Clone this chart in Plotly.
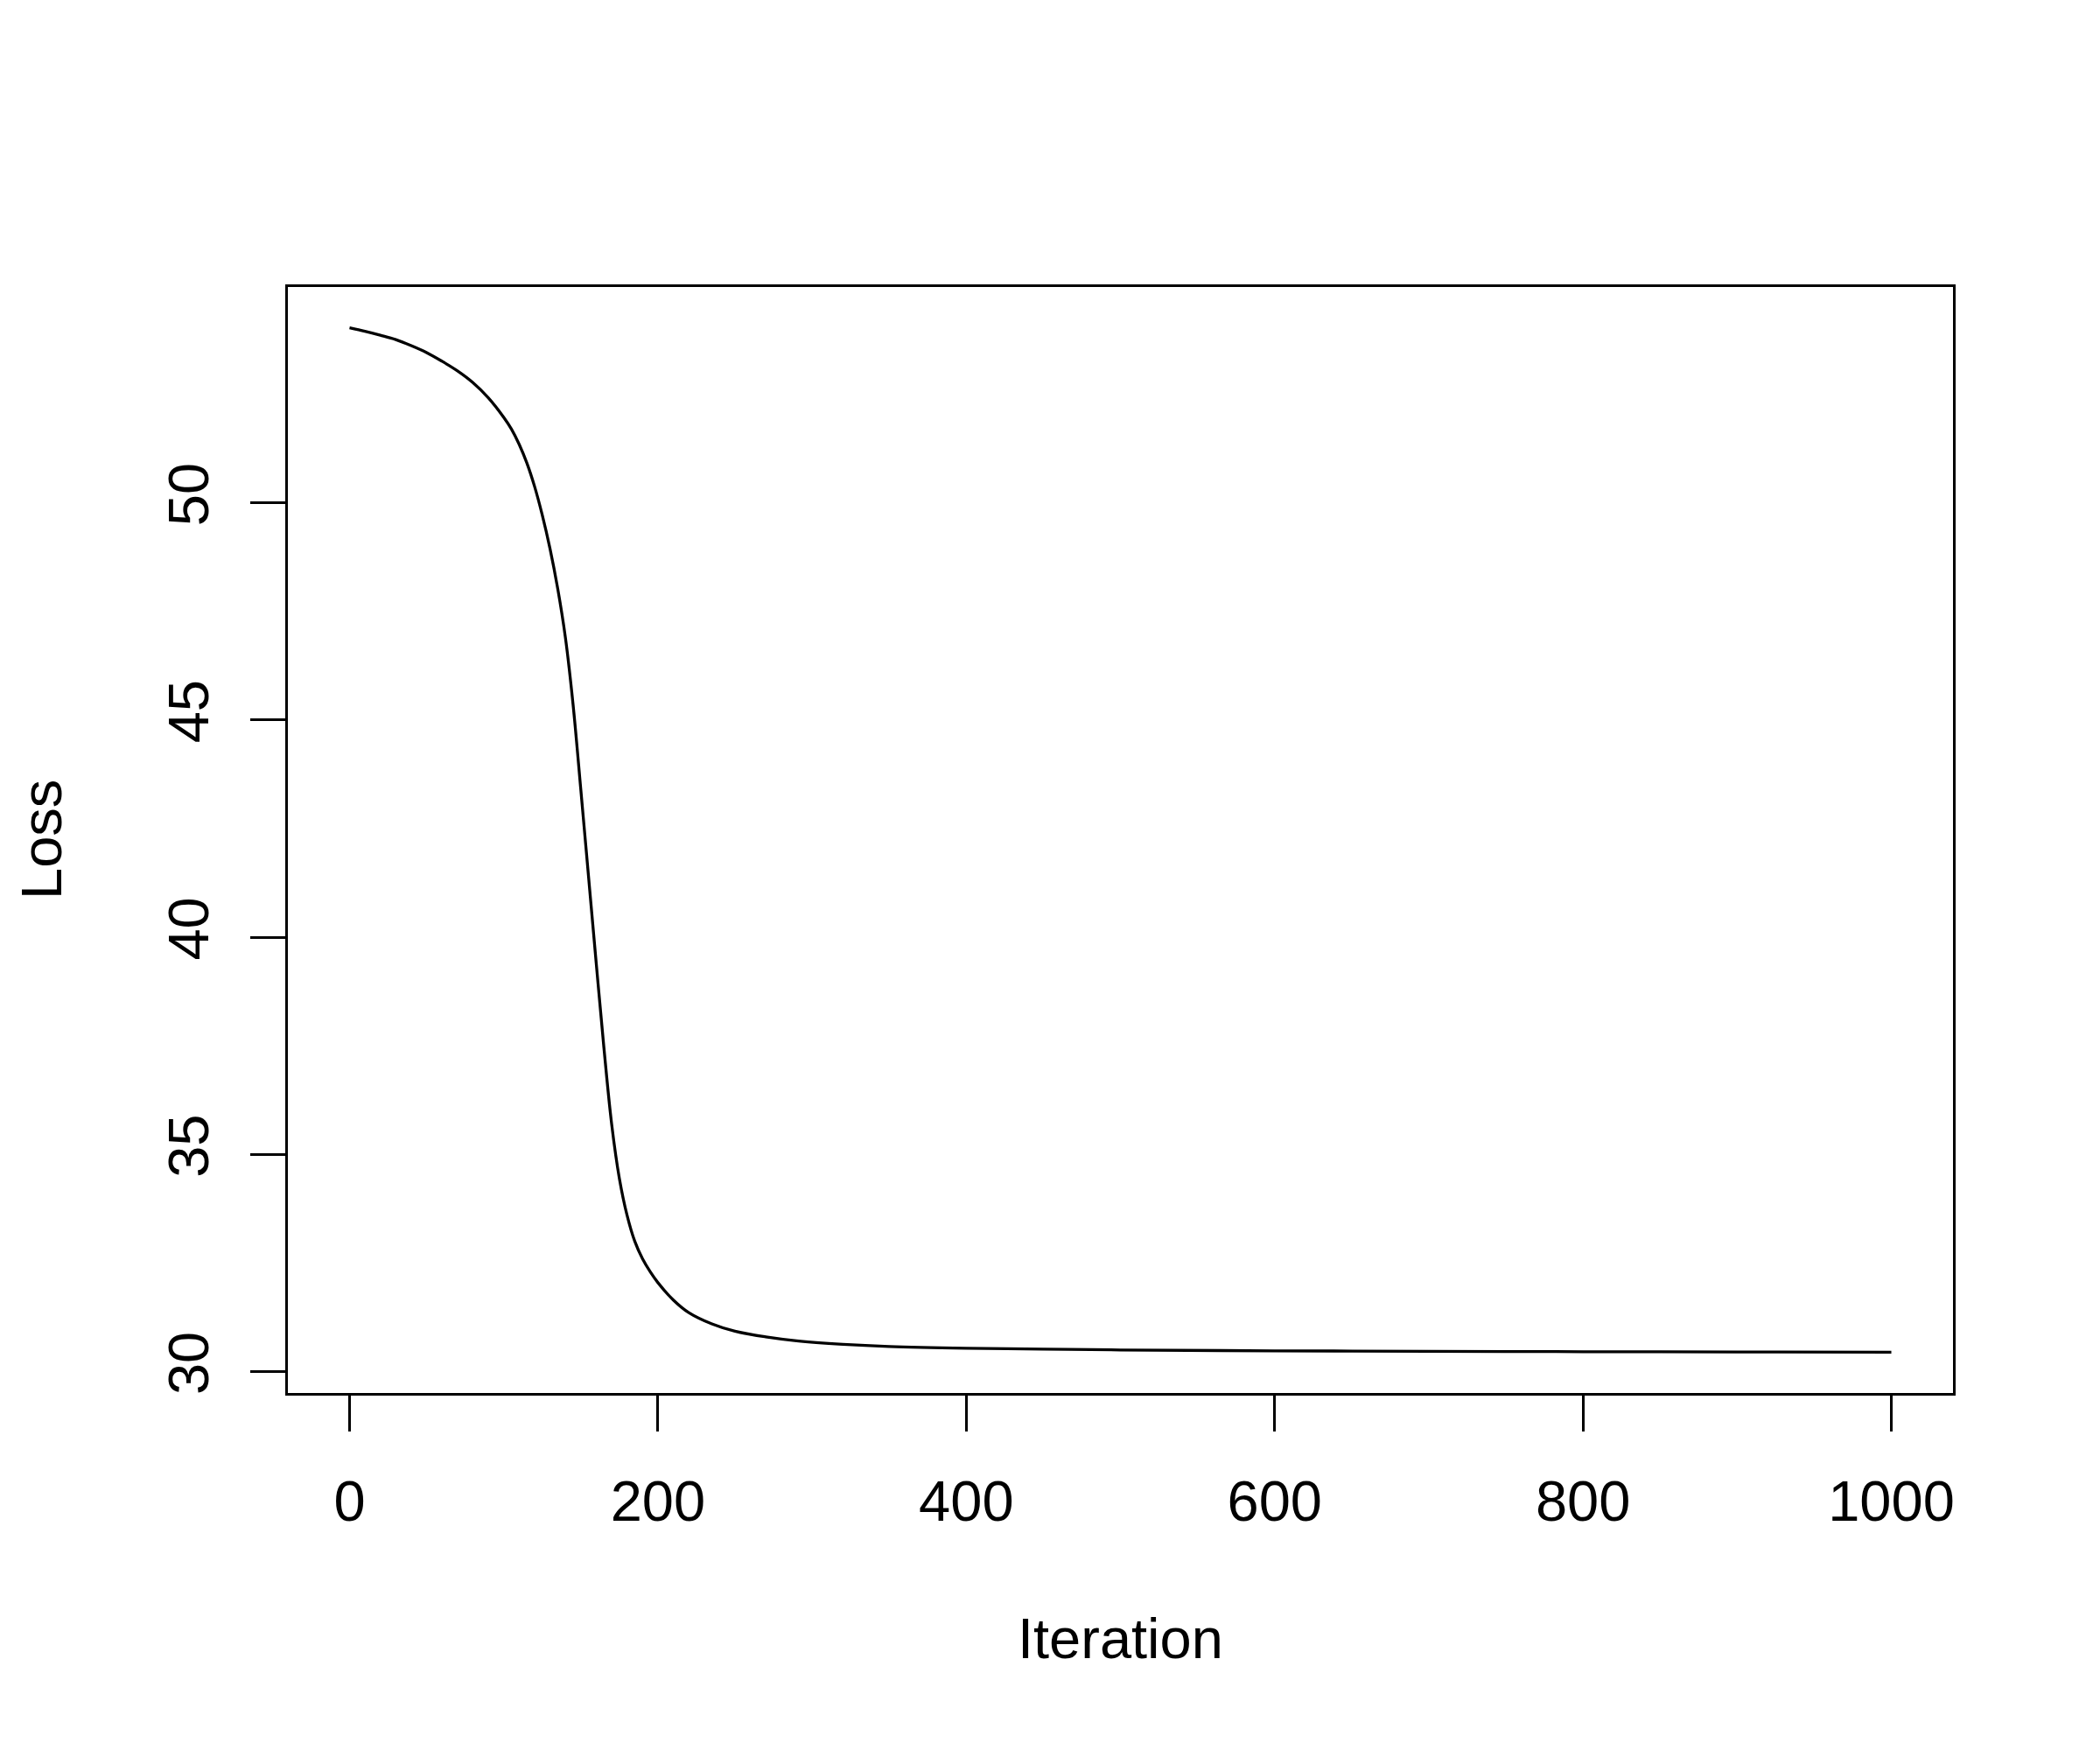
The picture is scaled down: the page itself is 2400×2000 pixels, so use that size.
import plotly.graph_objects as go

# Data
iteration = [0, 10, 20, 30, 40, 50, 60, 70, 80, 90, 100, 105, 110, 115, 120, 125,
             130, 135, 140, 145, 150, 155, 160, 165, 170, 175, 180, 185, 190, 195,
             200, 210, 220, 235, 250, 270, 290, 320, 350, 400, 450, 500, 600, 700,
             800, 900, 1000]
loss = [54.03, 53.95, 53.86, 53.76, 53.62, 53.46, 53.26, 53.04, 52.77, 52.42,
        51.97, 51.70, 51.35, 50.92, 50.38, 49.72, 48.95, 48.03, 46.90, 45.35,
        43.40, 41.40, 39.40, 37.45, 35.70, 34.45, 33.60, 33.00, 32.60, 32.30,
        32.05, 31.65, 31.36, 31.10, 30.93, 30.80, 30.71, 30.63, 30.58, 30.54,
        30.52, 30.50, 30.48, 30.47, 30.46, 30.455, 30.45]

x_ticks = [0, 200, 400, 600, 800, 1000]
x_tick_labels = ["0", "200", "400", "600", "800", "1000"]
y_ticks = [30, 35, 40, 45, 50]
y_tick_labels = ["30", "35", "40", "45", "50"]
x_title = "Iteration"
y_title = "Loss"

FONT = "Liberation Sans, Arial, Helvetica, sans-serif"
FS = 65

fig = go.Figure()
fig.add_trace(go.Scatter(
    x=iteration, y=loss, mode="lines",
    line=dict(color="black", width=3.3, shape="spline", smoothing=1.0),
    showlegend=False, hoverinfo="skip",
))

W, H = 2392, 1992
L, R, T, B = 321, 168, 320, 408
fig.update_layout(
    width=W, height=H, autosize=False,
    margin=dict(l=L, r=R, t=T, b=B, pad=0),
    paper_bgcolor="white", plot_bgcolor="white",
    font=dict(family=FONT, size=FS, color="black"),
    showlegend=False,
)
fig.update_xaxes(
    range=[-40, 1040], showgrid=False, zeroline=False,
    showline=True, linecolor="black", linewidth=3.3, mirror=True,
    ticks="outside", ticklen=41, tickwidth=3, tickcolor="black",
    tickvals=x_ticks, ticktext=x_tick_labels,
    tickfont=dict(family=FONT, size=FS, color="black"),
    ticklabelstandoff=24,
)
fig.update_yaxes(
    range=[29.509, 54.97], showgrid=False, zeroline=False,
    showline=True, linecolor="black", linewidth=3.3, mirror=True,
    ticks="outside", ticklen=40, tickwidth=3, tickcolor="black",
    tickvals=y_ticks, ticktext=y_tick_labels, tickangle=-90,
    tickfont=dict(family=FONT, size=FS, color="black"),
    ticklabelstandoff=22,
)
fig.add_annotation(
    text=x_title, xref="paper", yref="paper", x=0.5, y=0,
    xanchor="center", yanchor="middle", yshift=-(1872 - 1592),
    showarrow=False, font=dict(family=FONT, size=FS, color="black"),
)
fig.add_annotation(
    text=y_title, xref="paper", yref="paper", x=0, y=0.5,
    xanchor="center", yanchor="middle", xshift=-(327 - 45),
    textangle=-90, showarrow=False,
    font=dict(family=FONT, size=FS, color="black"),
)

fig.write_html("out.html")
